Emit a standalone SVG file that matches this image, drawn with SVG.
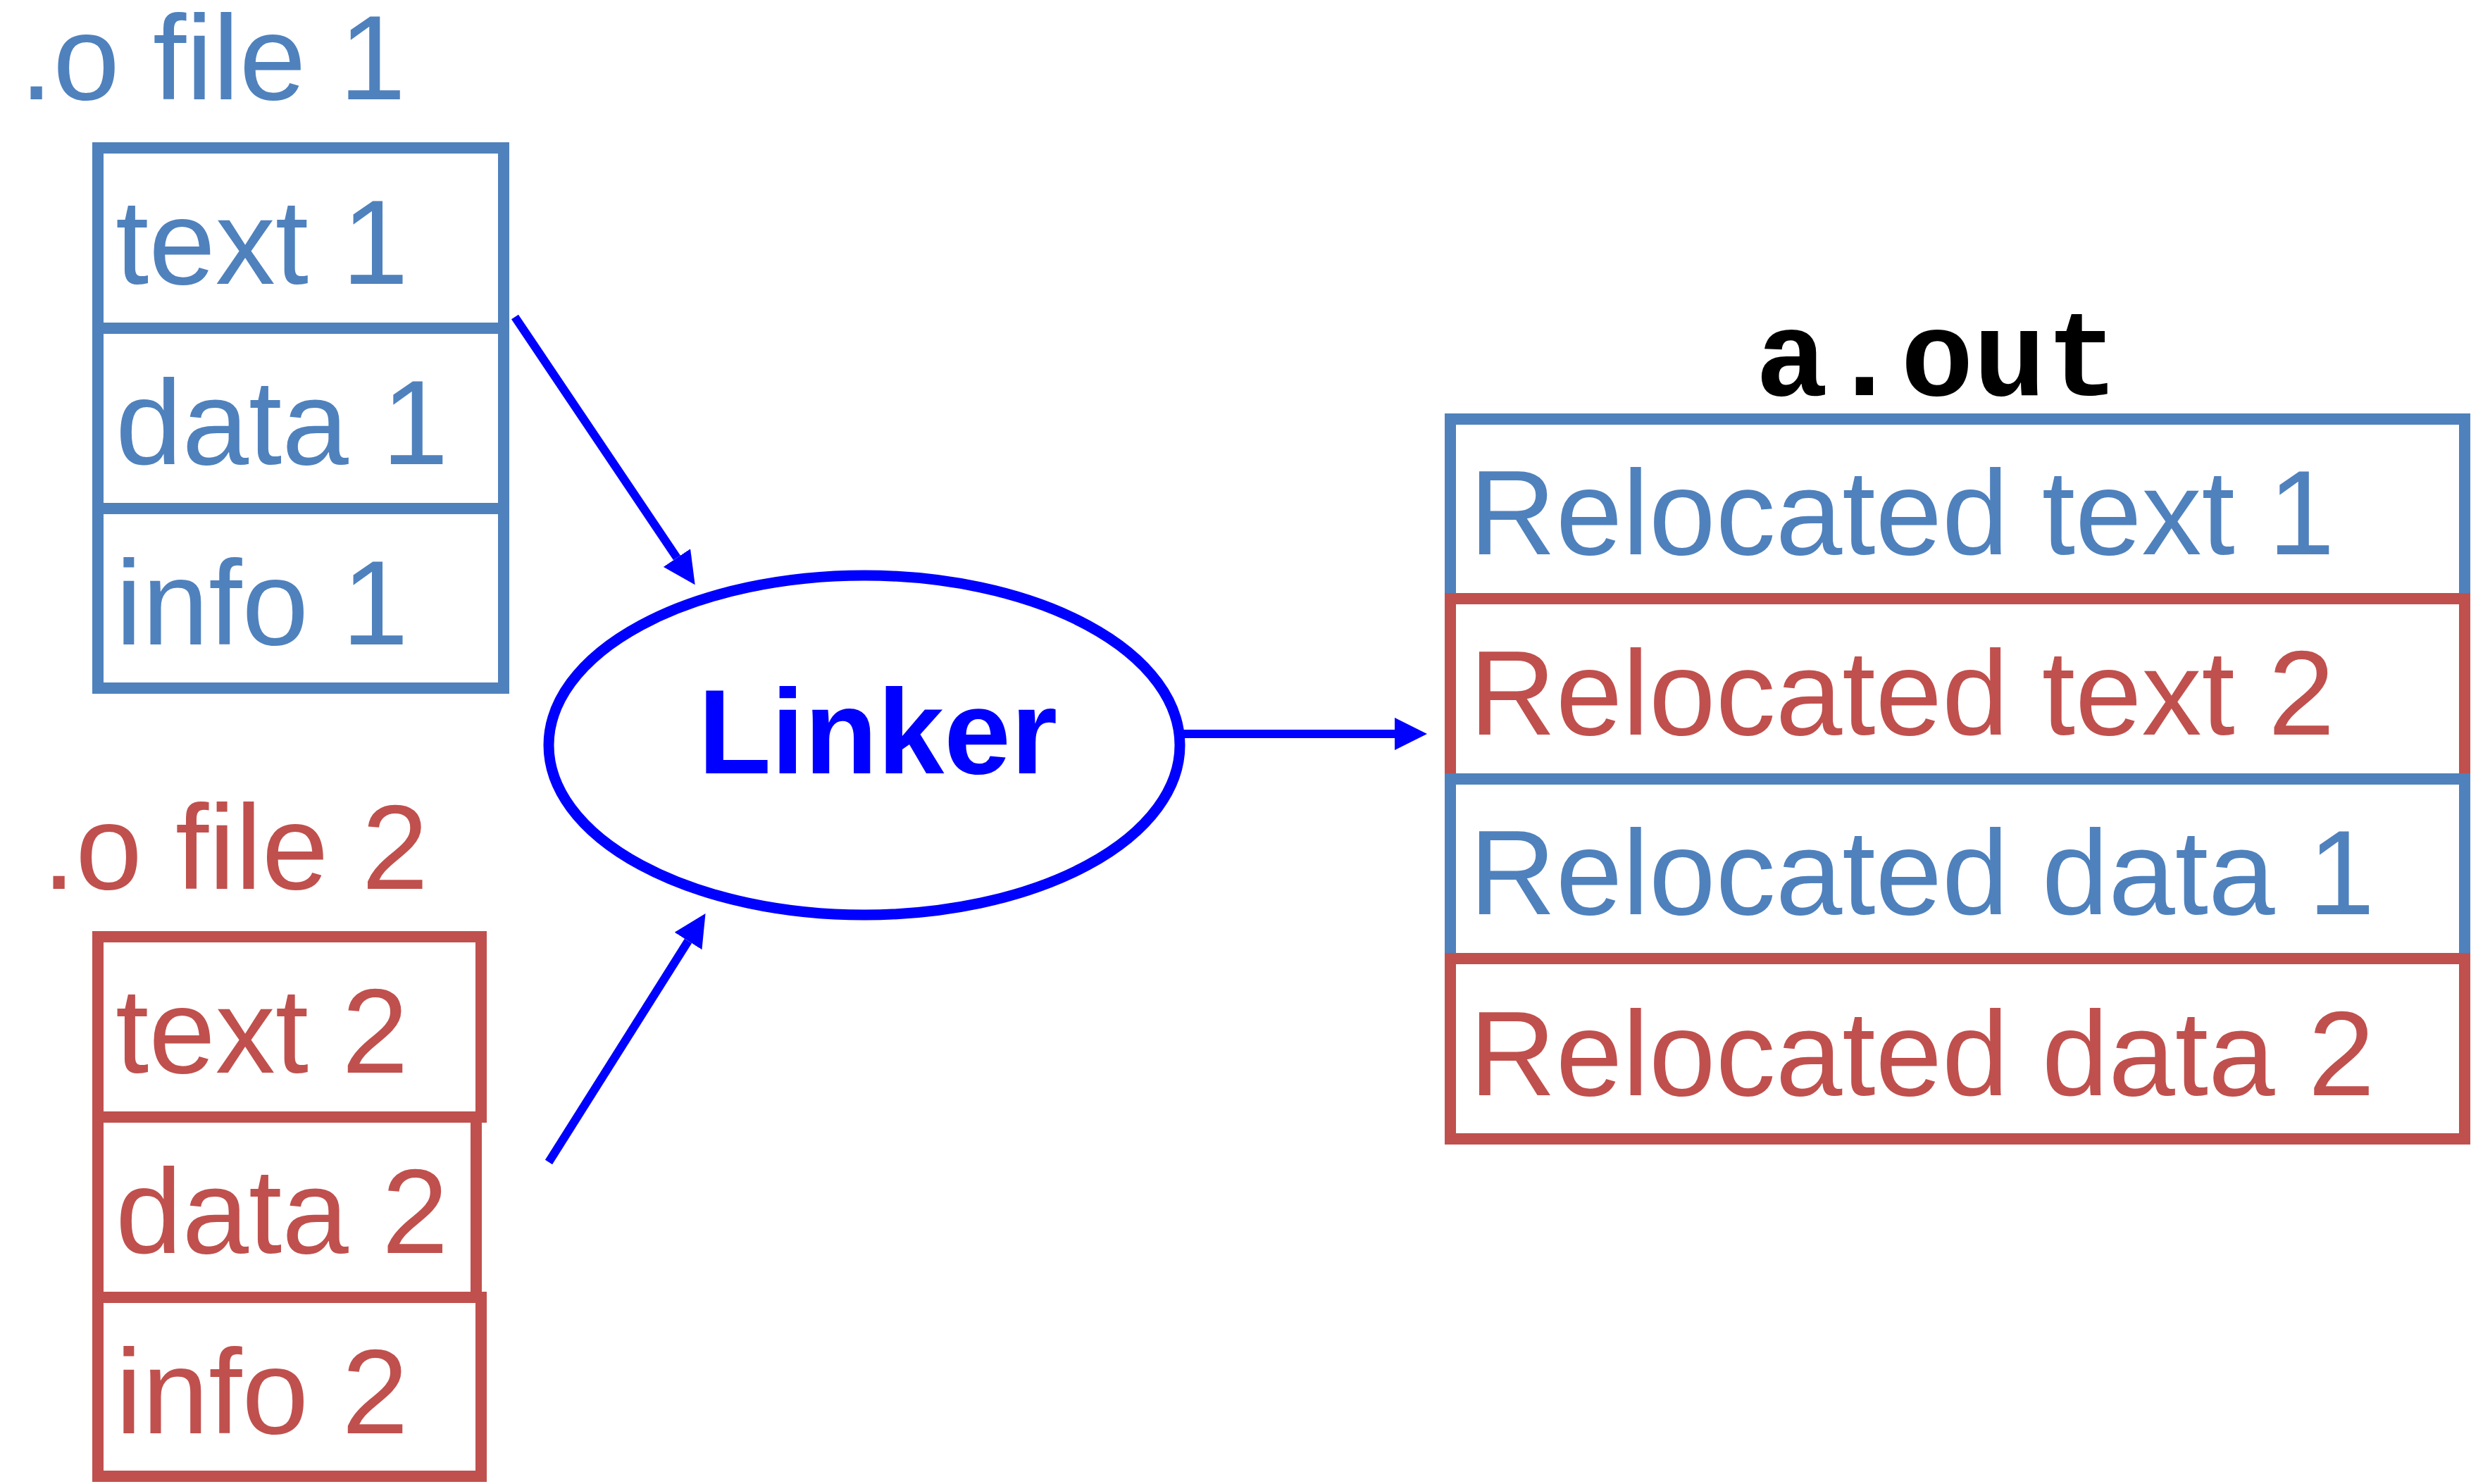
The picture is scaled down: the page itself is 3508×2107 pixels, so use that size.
<svg xmlns="http://www.w3.org/2000/svg" width="3508" height="2107" viewBox="0 0 3508 2107">
<defs>
<style>
.lbl{font-family:"Liberation Sans",Arial,Helvetica,sans-serif;font-size:170px}
.b{fill:#4F81BD}
.r{fill:#C0504D}
.bx{fill:none;stroke-width:16}
.bs{stroke:#4F81BD}
.rs{stroke:#C0504D}
.conn{stroke:#0000FF;stroke-width:12;fill:none}
</style>
<marker id="ah" markerUnits="userSpaceOnUse" markerWidth="47" markerHeight="46" refX="0" refY="23" orient="auto">
<path d="M0,0 L46,23 L0,46 Z" fill="#0000FF"/>
</marker>
</defs>
<rect width="3508" height="2107" fill="#FFFFFF"/>

<g id="ofile1">
<text class="lbl b" x="28" y="141">.o file 1</text>
<rect class="bx bs" x="139" y="210" width="576" height="256"/>
<rect class="bx bs" x="139" y="466" width="576" height="256"/>
<rect class="bx bs" x="139" y="722" width="576" height="255"/>
<text class="lbl b" x="164" y="403">text 1</text>
<text class="lbl b" x="164" y="659">data 1</text>
<text class="lbl b" x="164" y="915">info 1</text>
</g>

<g id="ofile2">
<text class="lbl r" x="60" y="1262">.o file 2</text>
<rect class="bx rs" x="139" y="1330" width="544" height="256"/>
<rect class="bx rs" x="139" y="1586" width="537" height="256"/>
<rect class="bx rs" x="139" y="1842" width="544" height="254"/>
<text class="lbl r" x="164" y="1523">text 2</text>
<text class="lbl r" x="164" y="1779">data 2</text>
<text class="lbl r" x="164" y="2035">info 2</text>
</g>

<g id="linker">
<ellipse cx="1227" cy="1058" rx="448" ry="241" fill="#FFFFFF" stroke="#0000FF" stroke-width="15"/>
<text x="1246" y="1098" text-anchor="middle" font-family="'Liberation Sans',Arial,Helvetica,sans-serif" font-size="170" font-weight="bold" fill="#0000FF">Linker</text>
</g>

<g id="aout">
<text x="2750" y="561" text-anchor="middle" font-family="'Liberation Mono','Courier New',monospace" font-size="172" font-weight="bold" fill="#000000">a.out</text>
<rect class="bx bs" x="2059" y="595" width="1440" height="255"/>
<rect class="bx rs" x="2059" y="850" width="1440" height="256"/>
<rect class="bx bs" x="2059" y="1106" width="1440" height="255"/>
<rect class="bx rs" x="2059" y="1361" width="1440" height="256"/>
<text class="lbl b" x="2086" y="787">Relocated text 1</text>
<text class="lbl r" x="2086" y="1043">Relocated text 2</text>
<text class="lbl b" x="2086" y="1298">Relocated data 1</text>
<text class="lbl r" x="2086" y="1555">Relocated data 2</text>
</g>

<g id="connectors">
<line class="conn" x1="731" y1="450" x2="961" y2="792" marker-end="url(#ah)"/>
<line class="conn" x1="779" y1="1650" x2="977" y2="1336" marker-end="url(#ah)"/>
<line class="conn" x1="1674" y1="1042" x2="1980" y2="1042" marker-end="url(#ah)"/>
</g>
</svg>
